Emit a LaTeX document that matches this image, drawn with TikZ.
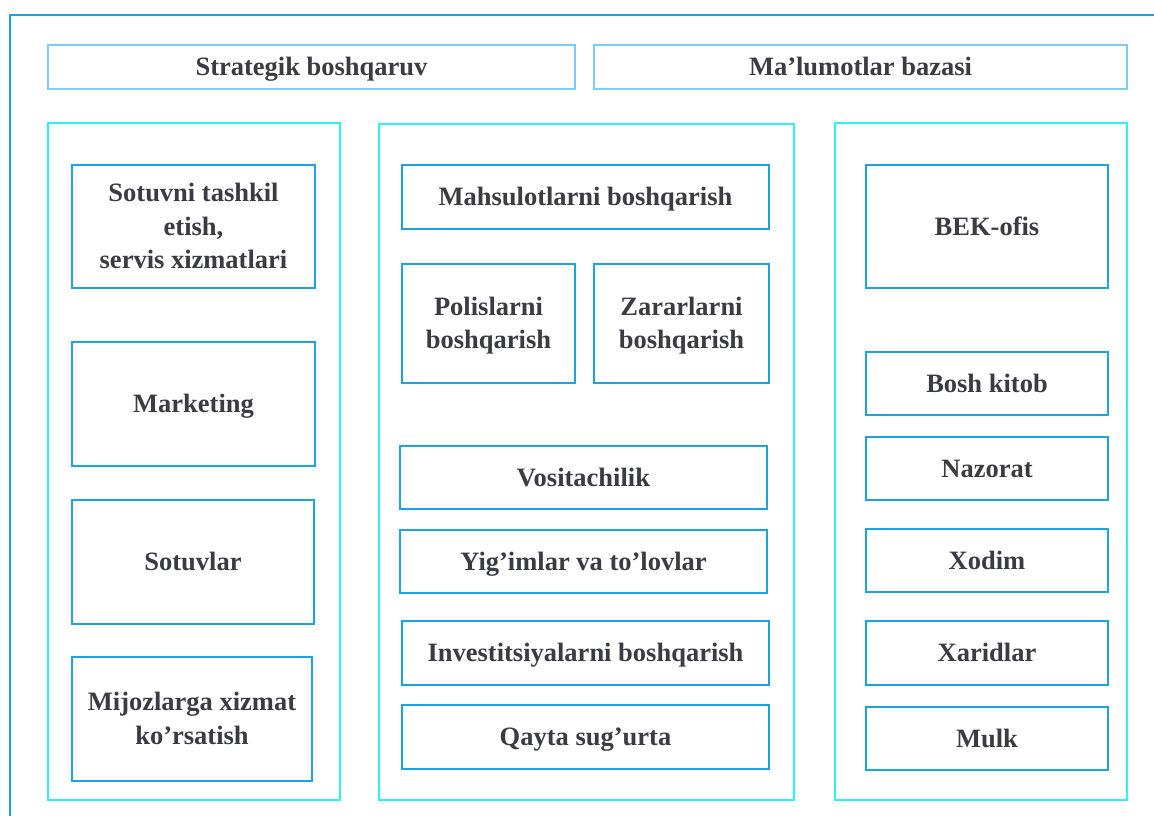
\documentclass[tikz,border=0pt]{standalone}
\usepackage{fontspec}
\setmainfont{Liberation Serif}
\definecolor{frameblue}{HTML}{17A5E3}
\definecolor{topblue}{HTML}{7DCDF2}
\definecolor{colcyan}{HTML}{2EF2F2}
\definecolor{boxblue}{HTML}{1CA3E2}
\definecolor{txt}{HTML}{3B3B43}
\tikzset{
  base/.style={draw, rectangle, inner sep=0pt, outer sep=0pt, align=center,
    text=txt, font=\fontsize{26.5}{33.5}\selectfont\bfseries,
    text height=17pt, text depth=0pt},
  two/.style={text height=50.5pt},
  three/.style={text height=84pt},
  topbox/.style={base, draw=topblue, line width=2.2pt},
  colbox/.style={draw=colcyan, line width=2.2pt},
  inbox/.style={base, draw=boxblue, line width=2pt},
}
\newcommand{\bx}[7]{%
  \node[#7, minimum width={(#4)-(#2)}, minimum height={(#5)-(#3)}]
    (#1) at ({((#2)+(#4))/2},{((#3)+(#5))/2}) {#6};}
\begin{document}
\begin{tikzpicture}[x=1pt,y=-1pt]
\useasboundingbox (0,0) rectangle (1154,815);
\clip (0,0) rectangle (1154,815);
\fill[white] (0,0) rectangle (1154,815);
% outer frame (runs off the picture to the right and bottom)
\draw[frameblue, line width=2pt] (10,830) -- (10,15) -- (1170,15);
% top boxes
\bx{strat}{48}{45}{575}{89}{Strategik boshqaruv}{topbox}
\bx{baza}{594}{45}{1127}{89}{Ma’lumotlar bazasi}{topbox}
% columns
\bx{colL}{48}{123}{340}{800}{}{colbox}
\bx{colM}{379}{124}{794}{800}{}{colbox}
\bx{colR}{835}{123}{1127}{800}{}{colbox}
% left column
\bx{sotuvni}{72}{165}{315}{288}{Sotuvni tashkil\\etish,\\servis xizmatlari}{inbox,three}
\bx{marketing}{72}{342}{315}{466}{Marketing}{inbox}
\bx{sotuvlar}{72}{500}{314}{624}{Sotuvlar}{inbox}
\bx{mijoz}{72}{657}{312}{781}{Mijozlarga xizmat\\ko’rsatish}{inbox,two}
% middle column
\bx{mahsulot}{402}{165}{769}{229}{Mahsulotlarni boshqarish}{inbox}
\bx{polis}{402}{264}{575}{383}{Polislarni\\boshqarish}{inbox,two}
\bx{zarar}{594}{264}{769}{383}{Zararlarni\\boshqarish}{inbox,two}
\bx{vosita}{400}{446}{767}{509}{Vositachilik}{inbox}
\bx{yigim}{400}{530}{767}{593}{Yig’imlar va to’lovlar}{inbox}
\bx{invest}{402}{621}{769}{685}{Investitsiyalarni boshqarish}{inbox}
\bx{qayta}{402}{705}{769}{769}{Qayta sug’urta}{inbox}
% right column
\bx{bek}{866}{165}{1108}{288}{BEK-ofis}{inbox}
\bx{kitob}{866}{352}{1108}{415}{Bosh kitob}{inbox}
\bx{nazorat}{866}{437}{1108}{500}{Nazorat}{inbox}
\bx{xodim}{866}{529}{1108}{592}{Xodim}{inbox}
\bx{xarid}{866}{621}{1108}{685}{Xaridlar}{inbox}
\bx{mulk}{866}{707}{1108}{770}{Mulk}{inbox}
\end{tikzpicture}
\end{document}
